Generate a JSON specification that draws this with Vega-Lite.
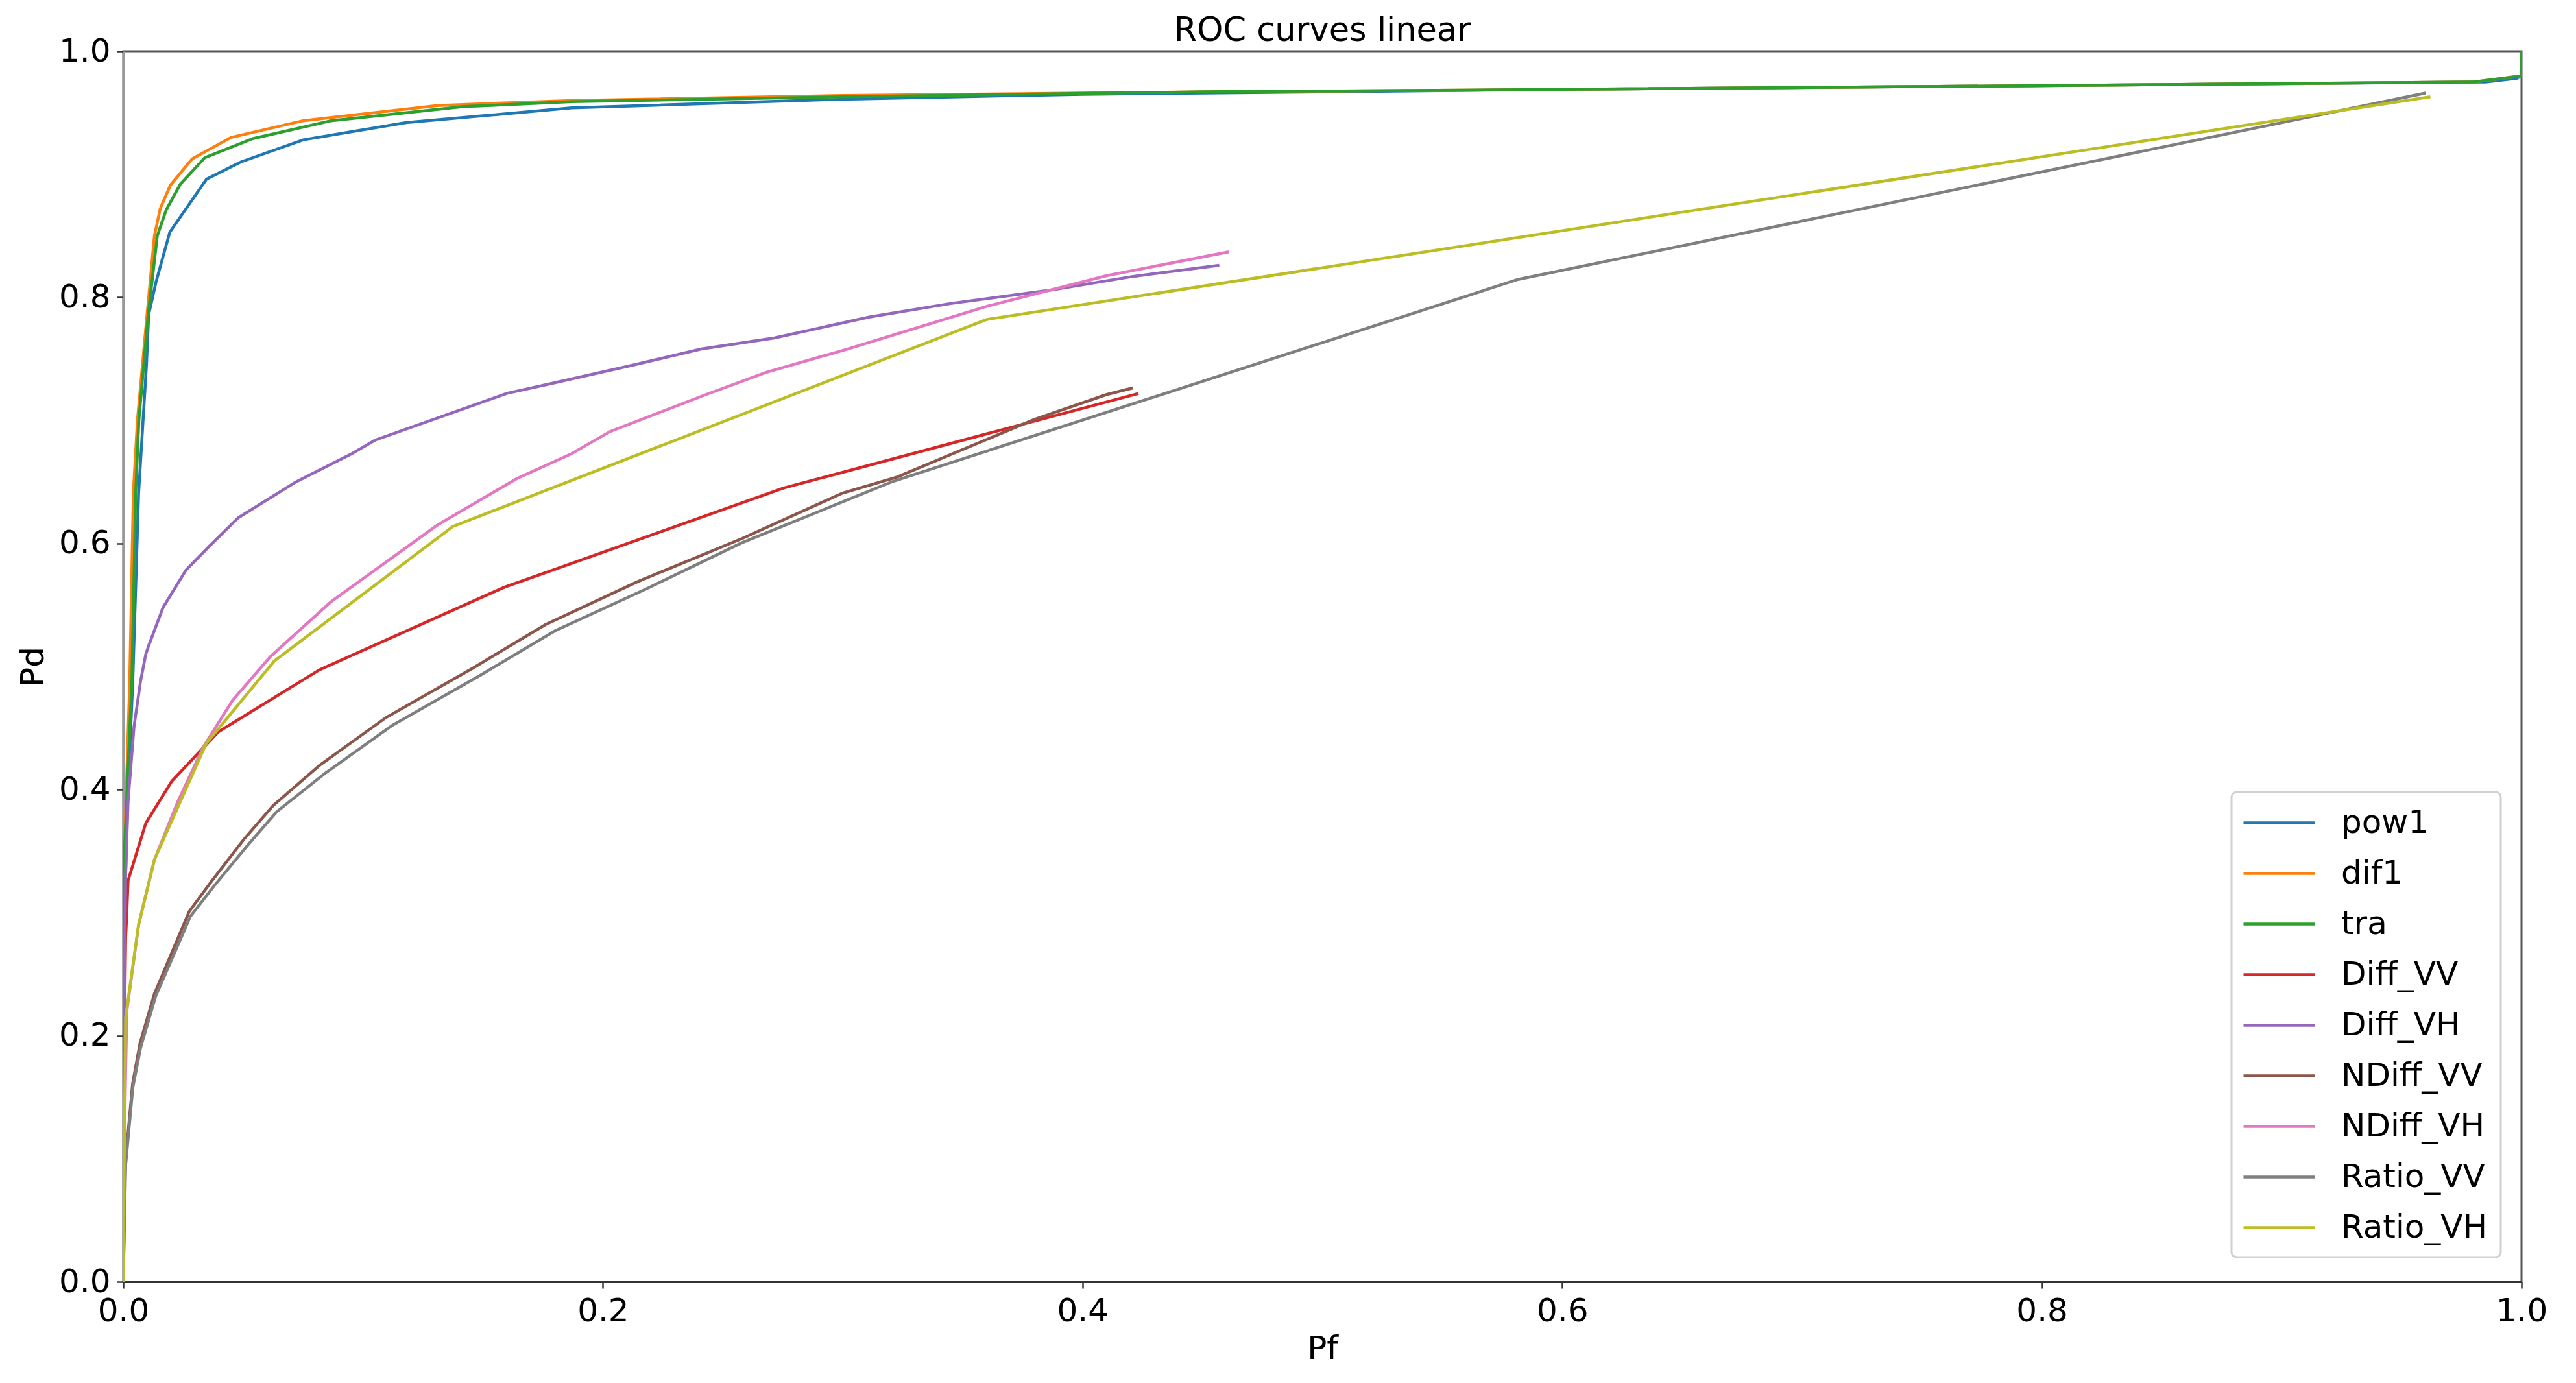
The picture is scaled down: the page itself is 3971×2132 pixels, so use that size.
{
  "$schema": "https://vega.github.io/schema/vega-lite/v6.json",
  "autosize": {"type": "none"},
  "padding": {"left": 190, "top": 79, "right": 84, "bottom": 156},
  "width": 3697,
  "height": 1897,
  "background": "white",
  "title": {"text": "ROC curves linear", "font": "DejaVu Sans", "fontSize": 51, "fontWeight": "normal", "color": "#000", "anchor": "middle", "frame": "group", "baseline": "alphabetic", "offset": 0, "dy": 60},
  "config": {
    "view": {"stroke": "#555", "strokeWidth": 3},
    "axis": {"labelFont": "DejaVu Sans", "labelFontSize": 50, "labelColor": "#000", "titleFont": "DejaVu Sans", "titleFontSize": 50, "titleFontWeight": "normal", "titleColor": "#000", "tickSize": 10, "tickWidth": 2.5, "tickColor": "#333", "domainWidth": 3, "labelPadding": 10, "grid": false},
    "legend": {"orient": "none", "legendX": 3250, "legendY": 1142, "symbolType": "M-2.2,0H2.2", "symbolSize": 2500, "symbolStrokeWidth": 4.5, "labelFont": "DejaVu Sans", "labelFontSize": 50, "labelColor": "#000", "labelLimit": 0, "padding": 20, "rowPadding": 25, "symbolOffset": 26, "labelOffset": 68, "strokeColor": "#d0d0d0", "fillColor": "white", "cornerRadius": 8, "strokeWidth": 3}
  },
  "data": {"values": [
    {"series":"pow1","order":0,"Pf":0,"Pd":0},
    {"series":"pow1","order":1,"Pf":0.0005,"Pd":0.3},
    {"series":"pow1","order":2,"Pf":0.002,"Pd":0.4},
    {"series":"pow1","order":3,"Pf":0.004,"Pd":0.49},
    {"series":"pow1","order":4,"Pf":0.0064,"Pd":0.641},
    {"series":"pow1","order":5,"Pf":0.0097,"Pd":0.746},
    {"series":"pow1","order":6,"Pf":0.0106,"Pd":0.786},
    {"series":"pow1","order":7,"Pf":0.0136,"Pd":0.812},
    {"series":"pow1","order":8,"Pf":0.0194,"Pd":0.853},
    {"series":"pow1","order":9,"Pf":0.0347,"Pd":0.896},
    {"series":"pow1","order":10,"Pf":0.049,"Pd":0.91},
    {"series":"pow1","order":11,"Pf":0.075,"Pd":0.928},
    {"series":"pow1","order":12,"Pf":0.118,"Pd":0.942},
    {"series":"pow1","order":13,"Pf":0.187,"Pd":0.954},
    {"series":"pow1","order":14,"Pf":0.3,"Pd":0.961},
    {"series":"pow1","order":15,"Pf":0.4,"Pd":0.965},
    {"series":"pow1","order":16,"Pf":0.6,"Pd":0.969},
    {"series":"pow1","order":17,"Pf":0.8,"Pd":0.972},
    {"series":"pow1","order":18,"Pf":0.985,"Pd":0.975},
    {"series":"pow1","order":19,"Pf":0.998,"Pd":0.978},
    {"series":"pow1","order":20,"Pf":1.0,"Pd":0.98},
    {"series":"pow1","order":21,"Pf":1.0,"Pd":1.0},

    {"series":"dif1","order":0,"Pf":0,"Pd":0},
    {"series":"dif1","order":1,"Pf":0.0005,"Pd":0.35},
    {"series":"dif1","order":2,"Pf":0.0027,"Pd":0.488},
    {"series":"dif1","order":3,"Pf":0.0042,"Pd":0.641},
    {"series":"dif1","order":4,"Pf":0.0059,"Pd":0.7},
    {"series":"dif1","order":5,"Pf":0.0094,"Pd":0.775},
    {"series":"dif1","order":6,"Pf":0.013,"Pd":0.85},
    {"series":"dif1","order":7,"Pf":0.0154,"Pd":0.872},
    {"series":"dif1","order":8,"Pf":0.0196,"Pd":0.891},
    {"series":"dif1","order":9,"Pf":0.0287,"Pd":0.9125},
    {"series":"dif1","order":10,"Pf":0.045,"Pd":0.93},
    {"series":"dif1","order":11,"Pf":0.075,"Pd":0.9435},
    {"series":"dif1","order":12,"Pf":0.131,"Pd":0.9559},
    {"series":"dif1","order":13,"Pf":0.187,"Pd":0.96},
    {"series":"dif1","order":14,"Pf":0.3,"Pd":0.964},
    {"series":"dif1","order":15,"Pf":0.45,"Pd":0.967},
    {"series":"dif1","order":16,"Pf":0.6,"Pd":0.969},
    {"series":"dif1","order":17,"Pf":0.8,"Pd":0.972},
    {"series":"dif1","order":18,"Pf":0.98,"Pd":0.975},
    {"series":"dif1","order":19,"Pf":1.0,"Pd":0.98},
    {"series":"dif1","order":20,"Pf":1.0,"Pd":1.0},

    {"series":"tra","order":0,"Pf":0,"Pd":0},
    {"series":"tra","order":1,"Pf":0.0005,"Pd":0.35},
    {"series":"tra","order":2,"Pf":0.0036,"Pd":0.488},
    {"series":"tra","order":3,"Pf":0.0052,"Pd":0.641},
    {"series":"tra","order":4,"Pf":0.0065,"Pd":0.7},
    {"series":"tra","order":5,"Pf":0.0104,"Pd":0.786},
    {"series":"tra","order":6,"Pf":0.0142,"Pd":0.85},
    {"series":"tra","order":7,"Pf":0.0179,"Pd":0.871},
    {"series":"tra","order":8,"Pf":0.0238,"Pd":0.892},
    {"series":"tra","order":9,"Pf":0.034,"Pd":0.9135},
    {"series":"tra","order":10,"Pf":0.054,"Pd":0.929},
    {"series":"tra","order":11,"Pf":0.0866,"Pd":0.9435},
    {"series":"tra","order":12,"Pf":0.142,"Pd":0.955},
    {"series":"tra","order":13,"Pf":0.187,"Pd":0.959},
    {"series":"tra","order":14,"Pf":0.3,"Pd":0.963},
    {"series":"tra","order":15,"Pf":0.45,"Pd":0.967},
    {"series":"tra","order":16,"Pf":0.6,"Pd":0.969},
    {"series":"tra","order":17,"Pf":0.8,"Pd":0.972},
    {"series":"tra","order":18,"Pf":0.98,"Pd":0.975},
    {"series":"tra","order":19,"Pf":1.0,"Pd":0.98},
    {"series":"tra","order":20,"Pf":1.0,"Pd":1.0},

    {"series":"Diff_VV","order":0,"Pf":0,"Pd":0},
    {"series":"Diff_VV","order":1,"Pf":0.0005,"Pd":0.2},
    {"series":"Diff_VV","order":2,"Pf":0.001,"Pd":0.28},
    {"series":"Diff_VV","order":3,"Pf":0.0015,"Pd":0.3},
    {"series":"Diff_VV","order":4,"Pf":0.002,"Pd":0.326},
    {"series":"Diff_VV","order":5,"Pf":0.0094,"Pd":0.3727},
    {"series":"Diff_VV","order":6,"Pf":0.0202,"Pd":0.4067},
    {"series":"Diff_VV","order":7,"Pf":0.0395,"Pd":0.4467},
    {"series":"Diff_VV","order":8,"Pf":0.0818,"Pd":0.4973},
    {"series":"Diff_VV","order":9,"Pf":0.159,"Pd":0.5645},
    {"series":"Diff_VV","order":10,"Pf":0.1785,"Pd":0.578},
    {"series":"Diff_VV","order":11,"Pf":0.2753,"Pd":0.645},
    {"series":"Diff_VV","order":12,"Pf":0.3606,"Pd":0.6894},
    {"series":"Diff_VV","order":13,"Pf":0.4233,"Pd":0.7219},

    {"series":"Diff_VH","order":0,"Pf":0,"Pd":0},
    {"series":"Diff_VH","order":1,"Pf":0.0005,"Pd":0.25},
    {"series":"Diff_VH","order":2,"Pf":0.001,"Pd":0.33},
    {"series":"Diff_VH","order":3,"Pf":0.002,"Pd":0.39},
    {"series":"Diff_VH","order":4,"Pf":0.0045,"Pd":0.4514},
    {"series":"Diff_VH","order":5,"Pf":0.0072,"Pd":0.488},
    {"series":"Diff_VH","order":6,"Pf":0.0094,"Pd":0.51},
    {"series":"Diff_VH","order":7,"Pf":0.0108,"Pd":0.518},
    {"series":"Diff_VH","order":8,"Pf":0.0166,"Pd":0.548},
    {"series":"Diff_VH","order":9,"Pf":0.0262,"Pd":0.5785},
    {"series":"Diff_VH","order":10,"Pf":0.036,"Pd":0.598},
    {"series":"Diff_VH","order":11,"Pf":0.048,"Pd":0.621},
    {"series":"Diff_VH","order":12,"Pf":0.072,"Pd":0.65},
    {"series":"Diff_VH","order":13,"Pf":0.095,"Pd":0.6726},
    {"series":"Diff_VH","order":14,"Pf":0.105,"Pd":0.684},
    {"series":"Diff_VH","order":15,"Pf":0.16,"Pd":0.722},
    {"series":"Diff_VH","order":16,"Pf":0.1785,"Pd":0.73},
    {"series":"Diff_VH","order":17,"Pf":0.2126,"Pd":0.745},
    {"series":"Diff_VH","order":18,"Pf":0.241,"Pd":0.758},
    {"series":"Diff_VH","order":19,"Pf":0.2715,"Pd":0.767},
    {"series":"Diff_VH","order":20,"Pf":0.311,"Pd":0.784},
    {"series":"Diff_VH","order":21,"Pf":0.345,"Pd":0.795},
    {"series":"Diff_VH","order":22,"Pf":0.387,"Pd":0.806},
    {"series":"Diff_VH","order":23,"Pf":0.421,"Pd":0.817},
    {"series":"Diff_VH","order":24,"Pf":0.457,"Pd":0.826},

    {"series":"NDiff_VV","order":0,"Pf":0,"Pd":0},
    {"series":"NDiff_VV","order":1,"Pf":0.0009,"Pd":0.0975},
    {"series":"NDiff_VV","order":2,"Pf":0.0039,"Pd":0.161},
    {"series":"NDiff_VV","order":3,"Pf":0.007,"Pd":0.194},
    {"series":"NDiff_VV","order":4,"Pf":0.013,"Pd":0.234},
    {"series":"NDiff_VV","order":5,"Pf":0.0275,"Pd":0.301},
    {"series":"NDiff_VV","order":6,"Pf":0.037,"Pd":0.326},
    {"series":"NDiff_VV","order":7,"Pf":0.0503,"Pd":0.3596},
    {"series":"NDiff_VV","order":8,"Pf":0.0625,"Pd":0.387},
    {"series":"NDiff_VV","order":9,"Pf":0.0818,"Pd":0.4196},
    {"series":"NDiff_VV","order":10,"Pf":0.1096,"Pd":0.4586},
    {"series":"NDiff_VV","order":11,"Pf":0.1458,"Pd":0.4987},
    {"series":"NDiff_VV","order":12,"Pf":0.176,"Pd":0.534},
    {"series":"NDiff_VV","order":13,"Pf":0.2145,"Pd":0.569},
    {"series":"NDiff_VV","order":14,"Pf":0.258,"Pd":0.604},
    {"series":"NDiff_VV","order":15,"Pf":0.3,"Pd":0.641},
    {"series":"NDiff_VV","order":16,"Pf":0.3227,"Pd":0.654},
    {"series":"NDiff_VV","order":17,"Pf":0.3797,"Pd":0.7006},
    {"series":"NDiff_VV","order":18,"Pf":0.41,"Pd":0.721},
    {"series":"NDiff_VV","order":19,"Pf":0.421,"Pd":0.7264},

    {"series":"NDiff_VH","order":0,"Pf":0,"Pd":0},
    {"series":"NDiff_VH","order":1,"Pf":0.0008,"Pd":0.15},
    {"series":"NDiff_VH","order":2,"Pf":0.0015,"Pd":0.22},
    {"series":"NDiff_VH","order":3,"Pf":0.0064,"Pd":0.29},
    {"series":"NDiff_VH","order":4,"Pf":0.013,"Pd":0.343},
    {"series":"NDiff_VH","order":5,"Pf":0.0227,"Pd":0.39},
    {"series":"NDiff_VH","order":6,"Pf":0.0335,"Pd":0.435},
    {"series":"NDiff_VH","order":7,"Pf":0.0456,"Pd":0.4726},
    {"series":"NDiff_VH","order":8,"Pf":0.0613,"Pd":0.508},
    {"series":"NDiff_VH","order":9,"Pf":0.0866,"Pd":0.5526},
    {"series":"NDiff_VH","order":10,"Pf":0.131,"Pd":0.615},
    {"series":"NDiff_VH","order":11,"Pf":0.164,"Pd":0.6526},
    {"series":"NDiff_VH","order":12,"Pf":0.1866,"Pd":0.6726},
    {"series":"NDiff_VH","order":13,"Pf":0.203,"Pd":0.691},
    {"series":"NDiff_VH","order":14,"Pf":0.243,"Pd":0.721},
    {"series":"NDiff_VH","order":15,"Pf":0.268,"Pd":0.739},
    {"series":"NDiff_VH","order":16,"Pf":0.302,"Pd":0.758},
    {"series":"NDiff_VH","order":17,"Pf":0.3606,"Pd":0.793},
    {"series":"NDiff_VH","order":18,"Pf":0.41,"Pd":0.8176},
    {"series":"NDiff_VH","order":19,"Pf":0.461,"Pd":0.837},

    {"series":"Ratio_VV","order":0,"Pf":0,"Pd":0},
    {"series":"Ratio_VV","order":1,"Pf":0.001,"Pd":0.095},
    {"series":"Ratio_VV","order":2,"Pf":0.004,"Pd":0.158},
    {"series":"Ratio_VV","order":3,"Pf":0.0072,"Pd":0.19},
    {"series":"Ratio_VV","order":4,"Pf":0.0135,"Pd":0.232},
    {"series":"Ratio_VV","order":5,"Pf":0.028,"Pd":0.297},
    {"series":"Ratio_VV","order":6,"Pf":0.038,"Pd":0.322},
    {"series":"Ratio_VV","order":7,"Pf":0.052,"Pd":0.355},
    {"series":"Ratio_VV","order":8,"Pf":0.064,"Pd":0.382},
    {"series":"Ratio_VV","order":9,"Pf":0.084,"Pd":0.413},
    {"series":"Ratio_VV","order":10,"Pf":0.112,"Pd":0.452},
    {"series":"Ratio_VV","order":11,"Pf":0.149,"Pd":0.493},
    {"series":"Ratio_VV","order":12,"Pf":0.18,"Pd":0.529},
    {"series":"Ratio_VV","order":13,"Pf":0.218,"Pd":0.563},
    {"series":"Ratio_VV","order":14,"Pf":0.258,"Pd":0.6006},
    {"series":"Ratio_VV","order":15,"Pf":0.321,"Pd":0.6505},
    {"series":"Ratio_VV","order":16,"Pf":0.5816,"Pd":0.8146},
    {"series":"Ratio_VV","order":17,"Pf":0.96,"Pd":0.966},

    {"series":"Ratio_VH","order":0,"Pf":0,"Pd":0},
    {"series":"Ratio_VH","order":1,"Pf":0.0005,"Pd":0.12},
    {"series":"Ratio_VH","order":2,"Pf":0.001,"Pd":0.215},
    {"series":"Ratio_VH","order":3,"Pf":0.0064,"Pd":0.2905},
    {"series":"Ratio_VH","order":4,"Pf":0.013,"Pd":0.343},
    {"series":"Ratio_VH","order":5,"Pf":0.0346,"Pd":0.4375},
    {"series":"Ratio_VH","order":6,"Pf":0.063,"Pd":0.5045},
    {"series":"Ratio_VH","order":7,"Pf":0.1374,"Pd":0.6138},
    {"series":"Ratio_VH","order":8,"Pf":0.36,"Pd":0.782},
    {"series":"Ratio_VH","order":9,"Pf":0.962,"Pd":0.963}
  ]},
  "mark": {"type": "line", "strokeWidth": 4.5, "clip": true},
  "encoding": {
    "x": {"field": "Pf", "type": "quantitative", "scale": {"domain": [0, 1], "nice": false, "zero": false}, "axis": {"title": "Pf", "values": [0, 0.2, 0.4, 0.6, 0.8, 1.0], "format": ".1f", "labelFlush": false, "domainColor": "#333", "titlePadding": 8}},
    "y": {"field": "Pd", "type": "quantitative", "scale": {"domain": [0, 1], "nice": false}, "axis": {"title": "Pd", "values": [0, 0.2, 0.4, 0.6, 0.8, 1.0], "format": ".1f", "labelFlush": false, "domainColor": "#999", "titlePadding": 14}},
    "color": {"field": "series", "type": "nominal", "title": null,
      "scale": {"domain": ["pow1", "dif1", "tra", "Diff_VV", "Diff_VH", "NDiff_VV", "NDiff_VH", "Ratio_VV", "Ratio_VH"],
                "range": ["#1f77b4", "#ff7f0e", "#2ca02c", "#d62728", "#9467bd", "#8c564b", "#e377c2", "#7f7f7f", "#bcbd22"]}},
    "order": {"field": "order", "type": "quantitative"}
  }
}
